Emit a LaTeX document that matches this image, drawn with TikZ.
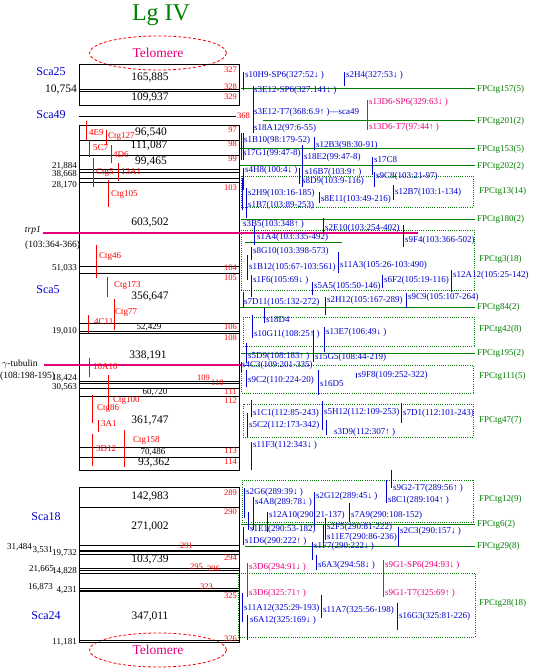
\documentclass[tikz,border=0pt]{standalone}
\usepackage{fontspec}
\setmainfont{Liberation Serif}
\usetikzlibrary{shapes.geometric}
\definecolor{mapRed}{HTML}{FF0000}
\definecolor{mapBlue}{HTML}{0000CC}
\definecolor{mapGreen}{HTML}{007F00}
\definecolor{mapPink}{HTML}{E4007C}

\begin{document}
\begin{tikzpicture}[x=1pt, y=-1pt,
  chrbox/.style={draw=black, line width=1pt},
  chrline/.style={line width=0.9pt, black},
  sizelbl/.style={font=\fontsize{11.5}{12}\selectfont, inner sep=0pt},
  smallsize/.style={font=\fontsize{9}{10}\selectfont, inner sep=0pt},
  leftnum/.style={font=\fontsize{9}{10}\selectfont, anchor=east, inner sep=0pt},
  scalbl/.style={font=\fontsize{12}{13}\selectfont, text=mapBlue, inner sep=0pt},
  posnum/.style={font=\fontsize{8.5}{9}\selectfont, text=mapRed, inner sep=0pt},
  ctgline/.style={line width=1pt, mapRed},
  ctglbl/.style={font=\fontsize{9}{10}\selectfont, text=mapRed, anchor=west, inner sep=0pt},
  bactick/.style={line width=0.8pt, mapBlue},
  pinktick/.style={line width=0.8pt, mapPink},
  baclbl/.style={font=\fontsize{9}{10}\selectfont, text=mapBlue, anchor=west, inner sep=0pt},
  pinklbl/.style={font=\fontsize{9}{10}\selectfont, text=mapPink, anchor=west, inner sep=0pt},
  fpcline/.style={line width=1pt, mapGreen},
  fpcbox/.style={draw=mapGreen, line width=0.8pt, dash pattern=on 1pt off 1.2pt},
  fpclbl/.style={font=\fontsize{9}{10}\selectfont, text=mapGreen, anchor=west, inner sep=2pt},
  genelbl/.style={font=\fontsize{9.5}{10}\selectfont, inner sep=0pt},
  geneline/.style={draw=mapPink, line width=1.3pt},
  telomere/.style={ellipse, draw=mapRed, dash pattern=on 3pt off 2pt, line width=0.8pt,
    minimum width=137pt, minimum height=34pt, text=mapPink,
    font=\fontsize{13.5}{14}\selectfont},
]
\useasboundingbox (0,0) rectangle (545,668);

% Title and telomeres
\node[text=mapGreen, font=\fontsize{24}{26}\selectfont] (title) at (161,15) {Lg IV};
\node[telomere] (teltop) at (158,53) {Telomere};
\node[telomere] (telbot) at (158,650) {Telomere};

% Scaffold boxes
\draw[chrbox] (79,65) rectangle (239,106);
\draw[chrbox] (79,126) rectangle (239,470);
\draw[chrbox] (79,487) rectangle (239,642);
\foreach \y in {89,91,140,155,169,172,178,182,266,273,323,331,333,381,383,388,396,447,457,
                507,545.5,550,551.5,554,568,570.5,573,588,590,591.5,640}
  \draw[chrline] (79,\y) -- (239,\y);
\draw[chrline] (79,116) -- (236,116);

% Segment sizes
\foreach \x/\y/\t [count=\i] in {150/78/{165,885}, 150/98/{109,937}, 151/133/{96,540},
    149/146/{111,087}, 151/162/{99,465}, 150/223/{603,502}, 150/297/{356,647},
    148/356/{338,191}, 150/421/{361,747}, 154/463/{93,362}, 150/497/{142,983},
    150/527/{271,002}, 150/560/{103,739}, 150/617/{347,011}}
  \node[sizelbl] (size\i) at (\x,\y) {\t};
\foreach \x/\y/\t [count=\i] in {149/327/{52,429}, 155/392/{60,720}, 153/452/{70,486}}
  \node[smallsize] (ssize\i) at (\x,\y) {\t};

% Gap sizes at left
\node[leftnum, font=\fontsize{11.5}{12}\selectfont] (gap0) at (77,90) {10,754};
\foreach \x/\y/\t [count=\i] in {77/166/{21,884}, 77/174/{38,668}, 77/185/{28,170},
    77/268/{51,033}, 77/331/{19,010}, 77/378/{18,424}, 77/387/{30,563},
    32/547/{31,484}, 53/550/{3,531}, 77/553/{19,732}, 54/569/{21,665}, 77/571/{14,828},
    53/587/{16,873}, 77/590/{4,231}, 77/642/{11,181}}
  \node[leftnum] (gap\i) at (\x,\y) {\t};

% Scaffold names
\foreach \x/\y/\t in {51/72/Sca25, 51/115/Sca49, 48/290/Sca5, 46/517/Sca18, 46/616/Sca24}
  \node[scalbl] (\t) at (\x,\y) {\t};

% Marker genes
\node[genelbl, anchor=east] (trp) at (41,230) {\textit{trp1}};
\node[genelbl, anchor=west] (trppos) at (25,245) {(103:364-366)};
\coordinate (trpstart) at (43,233);
\coordinate (trpend) at (418,233);
\draw[geneline] (trpstart) -- (trpend);
\node[genelbl, anchor=west] (tub) at (2,364) {$\gamma$-tubulin};
\node[genelbl, anchor=west] (tubpos) at (0,376) {(108:198-195)};
\coordinate (tubstart) at (44,365);
\coordinate (tubend) at (242,365);
\draw[geneline] (tubstart) -- (tubend);

% Position numbers
\foreach \y/\t in {70/327, 87/328, 97/329, 130/97, 144/98, 159/99, 188/103, 268/104,
    278/105, 327/106, 338/108, 392/111, 401/112, 451/113, 462/114, 493/289, 512/290,
    558/294, 596/325, 639/326}
  \node[posnum, anchor=east] (pos\t) at (237,\y) {\t};
\foreach \x/\y/\t in {237/116/368, 197/378/109, 211/383/110, 180/546/291, 190/567/295,
    207/569/296, 200/587/323}
  \node[posnum, anchor=west] (pos\t) at (\x,\y) {\t};

% Contigs on the scaffolds
\foreach \x/\ya/\yb/\lx/\ly/\t [count=\i] in {86/121/140/89/133/4E9, 106.5/130/145/108/136/Ctg127,
    89/140/157/93/148/5C7, 111/145/163/113/155/4D6, 93/158/187/96/172/Ctg5,
    118/163/181/121/172/13A1, 108/180/207/111/194/Ctg105, 96/245/278/99/256/Ctg46,
    107/277/297/114/285/Ctg173, 114/299/330/115/312/Ctg77, 88/315/333/94/322/4C11,
    89/358/377/93/367/10A10, 108/375/410/113/400/Ctg100, 92/395/423/97/408/Ctg86,
    98/420/432/101/424/3A1, 92/434/466/96/449/3D12, 124/430/467/133/440/Ctg158}
{
  \draw[ctgline] (\x,\ya) -- (\x,\yb);
  \node[ctglbl] (ctg\i) at (\lx,\ly) {\t};
}

% FPC contigs
\foreach \xa/\y/\t [count=\i] in {241/89/{FPCtg157(5)}, 263/121/{FPCtg201(2)},
    240/149/{FPCtg153(5)}, 240/166/{FPCtg202(2)}, 241/219/{FPCtg180(2)},
    240/307/{FPCtg84(2)}, 241/353/{FPCtg195(2)}, 241/524/{FPCtg6(2)}, 245/546/{FPCtg29(8)}}
{
  \node[fpclbl] (fpc\i) at (475,\y) {\t};
  \draw[fpcline] (\xa,\y) -- (fpc\i.west);
}
\foreach \xa/\ya/\xb/\yb/\t/\ly [count=\i] in {241/176/473/207/{FPCtg13(14)}/191,
    241/230/474/290/{FPCtg3(18)}/259, 243/317/474/346/{FPCtg42(8)}/329,
    241/365/473/393/{FPCtg111(5)}/376, 243/404/473/437/{FPCtg47(7)}/420,
    242/480/473/522/{FPCtg12(9)}/499, 238/573/475/637/{FPCtg28(18)}/603}
{
  \draw[fpcbox] (\xa,\ya) rectangle (\xb,\yb);
  \node[fpclbl] (fpcb\i) at (477,\ly) {\t};
}
\draw[fpcline] (245,242) -- (342,242);

% BAC ends
\foreach \x/\ya/\yb in {243/72/90, 344/72/86, 253/86/133, 241.5/133/160, 243.5/133/160,
    314/137/150, 302/145/187, 299/168/184, 372/157/175, 243/168/190, 374/172/187,
    246/188/218, 242.5/178/210, 319/192/203, 393/185/200, 323/218/233, 403/225/247,
    254/226/245, 251/247/260, 338/252/273, 247/255/280, 251/275/297, 312/282/295,
    382/275/288, 451/270/292, 243/292/308, 325/297/315, 406/293/308, 264/308/323,
    252/315/338, 324/327/352, 313/330/362, 246/343/363, 241/362/372, 246/370/387,
    318/370/395, 356/373/378, 251/400/417, 322/401/430, 401/403/423, 247/413/437,
    326/420/435, 251/442/470, 391/470/488, 386/480/503, 244/488/518, 253/497/530,
    314/492/527, 349/503/522, 267/512/532, 248/512/530, 325/518/540, 323/525/543,
    398/527/547, 243/527/545, 312/542/560, 316/555/570, 242/593/622, 321/595/618,
    397/603/630, 247/615/640}
  \draw[bactick] (\x,\ya) -- (\x,\yb);
\foreach \x/\ya/\yb in {367/100/130, 247/563/597, 383/560/597}
  \draw[pinktick] (\x,\ya) -- (\x,\yb);

\foreach \x/\y/\t [count=\i] in {245/75/s10H9-SP6(327:52↓ ), 346/75/s2H4(327:53↓ ),
    254/90/s3E12-SP6(327:141↓ ), 254/112/s3E12-T7(368:6.9↑ )---sca49,
    254/128/s18A12(97:6-55), 244/140/s1B10(98:179-52), 316/145/s12B3(98:30-91),
    243/153/s17G1(99:47-8), 304/157/s18E2(99:47-8), 374/160/s17C8,
    245/170/s4H8(100:4↓ ), 305/172/s16B7(103:9↑ ), 302/181/s8D9(103:9-116),
    376/176/s9C8(103:21-97), 248/193/s2H9(103:16-185), 248/205/s1B7(103:89-253),
    321/199/s8E11(103:49-216), 395/192/s12B7(103:1-134), 243/224/s3B5(103:348↑ ),
    325/228/s2E10(103:254-402), 405/240/s9F4(103:366-502), 257/237/s1A4(103:335-492),
    253/251/s8G10(103:398-573), 249/267/s1B12(105:67-103:561),
    340/265/s11A3(105:26-103:490), 253/280/s1F6(105:69↓ ), 314/286/s5A5(105:50-146),
    384/280/s6F2(105:19-116), 453/275/s12A12(105:25-142), 244/302/s7D11(105:132-272),
    327/300/s2H12(105:167-289), 408/297/s9C9(105:107-264), 266/320/s18D4,
    254/334/s10G11(108:25↑ ), 326/332/s13E7(106:49↓ ), 248/356/s5D9(108:183↑ ),
    315/357/s15G5(108:44-219), 242/365/s4C3(109:201-335), 248/380/s9C2(110:224-20),
    320/384/s16D5, 358/375/s9F8(109:252-322), 253/413/s1C1(112:85-243),
    324/412/s5H12(112:109-253), 403/413/s7D1(112:101-243), 249/425/s5C2(112:173-342),
    334/432/s3D9(112:307↑ ), 253/445/s11F3(112:343↓ ), 393/488/s9G2-T7(289:56↑ ),
    388/500/s8C1(289:104↑ ), 246/492/s2G6(289:39↓ ), 255/502/s4A8(289:78↓ ),
    316/496/s2G12(289:45↓ ), 351/515/s7A9(290:108-152), 269/515/s12A10(290:21-137),
    250/529/s1E1(290:53-182), 327/527/s2F5(290:81-222), 327/537/s11E7(290:86-236),
    400/531/s2C3(290:157↓ ), 245/541/s1D6(290:222↑ ), 314/546/s1F7(290:222↓ ),
    318/565/s6A3(294:58↓ ), 244/608/s11A12(325:29-193), 323/610/s11A7(325:56-198),
    399/616/s16G3(325:81-226), 250/620/s6A12(325:169↓ )}
  \node[baclbl] (bac\i) at (\x,\y) {\t};
\foreach \x/\y/\t [count=\i] in {369/102/s13D6-SP6(329:63↓ ), 369/127/s13D6-T7(97:44↑ ),
    249/567/s3D6(294:91↓ ), 385/565/s9G1-SP6(294:93↓ ), 249/593/s3D6(325:71↑ ),
    385/593/s9G1-T7(325:69↑ )}
  \node[pinklbl] (pbac\i) at (\x,\y) {\t};
\end{tikzpicture}
\end{document}
